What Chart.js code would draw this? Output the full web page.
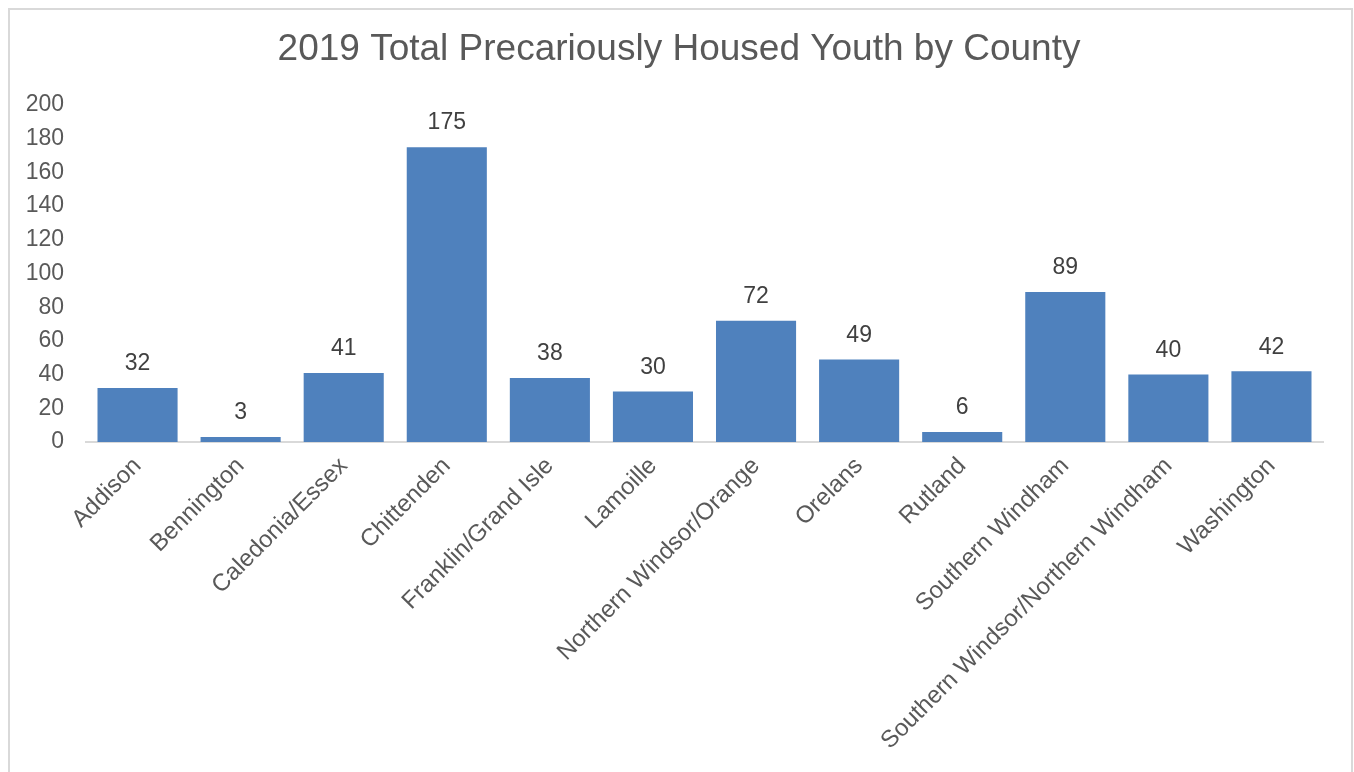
<!DOCTYPE html>
<html>
<head>
<meta charset="utf-8">
<script src="https://cdn.jsdelivr.net/npm/chart.js@4"></script>
<style>
    body { margin: 0; background: #fff; overflow: hidden; }
    #wrap { position: absolute; left: 0; top: 0; width: 1354px; height: 772px; }
    #frame { position: absolute; left: 8px; top: 8px; width: 1341px; height: 800px; border: 2px solid #d9d9d9; pointer-events: none; }
</style>
</head>
<body>
<div id="wrap"><canvas id="chart" width="1354" height="772"></canvas></div>
<div id="frame"></div>
<script>
const chart_title = "2019 Total Precariously Housed Youth by County";
const counties = ["Addison", "Bennington", "Caledonia/Essex", "Chittenden", "Franklin/Grand Isle", "Lamoille",
    "Northern Windsor/Orange", "Orelans", "Rutland", "Southern Windham", "Southern Windsor/Northern Windham", "Washington"];
const youth = [32, 3, 41, 175, 38, 30, 72, 49, 6, 89, 40, 42];
const y_ticks = [0, 20, 40, 60, 80, 100, 120, 140, 160, 180, 200];

const font_family = "'Liberation Sans', Arial, sans-serif";

// title centred on the whole frame, and the value above each bar
const chartText = {
    id: "chartText",
    afterDatasetsDraw(chart) {
        const ctx = chart.ctx;
        ctx.save();
        ctx.textAlign = "center";
        ctx.textBaseline = "middle";

        ctx.font = "37px " + font_family;
        ctx.fillStyle = "#595959";
        ctx.fillText(chart_title, 679, 50);

        const meta = chart.getDatasetMeta(0);
        ctx.font = "23px " + font_family;
        ctx.fillStyle = "#404040";
        meta.data.forEach((bar, i) => {
            ctx.fillText(youth[i], bar.x, bar.y - 24);
        });
        ctx.restore();
    }
};

const ctx = document.getElementById("chart").getContext("2d");
new Chart(ctx, {
    type: "bar",
    data: {
        labels: counties,
        datasets: [{
            data: youth,
            backgroundColor: "#4F81BD",
            borderWidth: 0,
            categoryPercentage: 1,
            barPercentage: 0.777
        }]
    },
    options: {
        responsive: false,
        animation: false,
        layout: { padding: { left: 0, right: 31, bottom: 0, top: 105 } },
        plugins: {
            legend: { display: false },
            tooltip: { enabled: false },
            title: { display: false }
        },
        scales: {
            x: {
                grid: { display: false, drawTicks: false },
                border: { display: true, color: "#d9d9d9", width: 2 },
                ticks: {
                    color: "#595959",
                    font: { family: font_family, size: 24 },
                    minRotation: 45,
                    maxRotation: 45,
                    autoSkip: false,
                    padding: 10
                },
                afterFit(scale) { scale.height = 330; }
            },
            y: {
                min: 0,
                max: 200,
                afterBuildTicks(scale) { scale.ticks = y_ticks.map(v => ({ value: v })); },
                grid: { display: false, drawTicks: false },
                border: { display: false },
                ticks: {
                    color: "#595959",
                    font: { family: font_family, size: 23 },
                    padding: 22
                },
                afterFit(scale) { scale.width = 86; }
            }
        }
    },
    plugins: [chartText]
});
</script>
</body>
</html>
